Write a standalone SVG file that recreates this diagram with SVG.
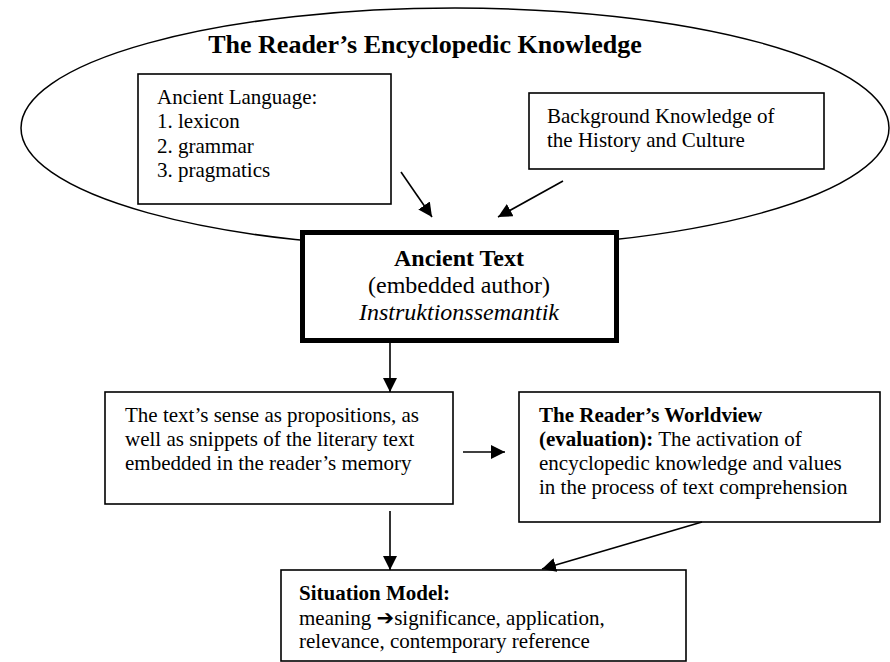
<svg xmlns="http://www.w3.org/2000/svg" width="890" height="662" viewBox="0 0 890 662">
  <defs>
    <marker id="ah" markerUnits="userSpaceOnUse" markerWidth="14" markerHeight="14" refX="14" refY="7" orient="auto">
      <path d="M0,0 L14,7 L0,14 z" fill="#000"/>
    </marker>
    <style>
      .box { fill: #fff; stroke: #000; stroke-width: 1.6; }
      .thick { fill: #fff; stroke: #000; stroke-width: 5; }
      .t { font-family: "Liberation Serif", "Times New Roman", serif; font-size: 21px; fill: #000; }
      .b { font-weight: bold; }
      .c { text-anchor: middle; }
      .conn { stroke: #000; stroke-width: 1.6; fill: none; marker-end: url(#ah); }
    </style>
  </defs>
  <rect width="890" height="662" fill="#fff"/>

  <g id="encyclopedic-knowledge">
    <ellipse cx="455" cy="128" rx="434" ry="120" fill="none" stroke="#000" stroke-width="1.5"/>
    <text class="t b c" x="425" y="53" style="font-size:26px">The Reader’s Encyclopedic Knowledge</text>
  </g>

  <g id="ancient-language">
    <rect class="box" x="138" y="74" width="253" height="130"/>
    <text class="t" x="157" y="104">Ancient Language:</text>
    <text class="t" x="157" y="128">1. lexicon</text>
    <text class="t" x="157" y="153">2. grammar</text>
    <text class="t" x="157" y="177">3. pragmatics</text>
  </g>

  <g id="background-knowledge">
    <rect class="box" x="529" y="93" width="295" height="76"/>
    <text class="t" x="547" y="123">Background Knowledge of</text>
    <text class="t" x="547" y="147">the History and Culture</text>
  </g>

  <g id="ancient-text">
    <rect class="thick" x="302.5" y="232.5" width="314" height="108"/>
    <text class="t b c" x="459" y="266" style="font-size:24px">Ancient Text</text>
    <text class="t c" x="459" y="293" style="font-size:24px">(embedded author)</text>
    <text class="t c" x="459" y="320" style="font-size:24px;font-style:italic">Instruktionssemantik</text>
  </g>

  <g id="text-sense">
    <rect class="box" x="105" y="392" width="348" height="112"/>
    <text class="t" x="125" y="422">The text’s sense as propositions, as</text>
    <text class="t" x="125" y="446">well as snippets of the literary text</text>
    <text class="t" x="125" y="470">embedded in the reader’s memory</text>
  </g>

  <g id="worldview">
    <rect class="box" x="519" y="392" width="361" height="130"/>
    <text class="t b" x="539" y="422">The Reader’s Worldview</text>
    <text class="t" x="539" y="446"><tspan class="b">(evaluation):</tspan> The activation of</text>
    <text class="t" x="539" y="470">encyclopedic knowledge and values</text>
    <text class="t" x="539" y="494">in the process of text comprehension</text>
  </g>

  <g id="situation-model">
    <rect class="box" x="281" y="570" width="405" height="91"/>
    <text class="t b" x="299" y="600">Situation Model:</text>
    <text class="t" x="299" y="625">meaning <tspan style="font-family:'DejaVu Sans',sans-serif;font-weight:bold;font-size:21px">➔</tspan>significance, application,</text>
    <text class="t" x="299" y="648">relevance, contemporary reference</text>
  </g>

  <g id="connectors">
    <line class="conn" x1="401" y1="172" x2="432" y2="217"/>
    <line class="conn" x1="563" y1="181" x2="498" y2="217"/>
    <line class="conn" x1="390" y1="343" x2="390" y2="392"/>
    <line class="conn" x1="463" y1="452" x2="505" y2="452"/>
    <line class="conn" x1="390" y1="511" x2="390" y2="570"/>
    <line class="conn" x1="702" y1="522" x2="542" y2="569"/>
  </g>
</svg>
